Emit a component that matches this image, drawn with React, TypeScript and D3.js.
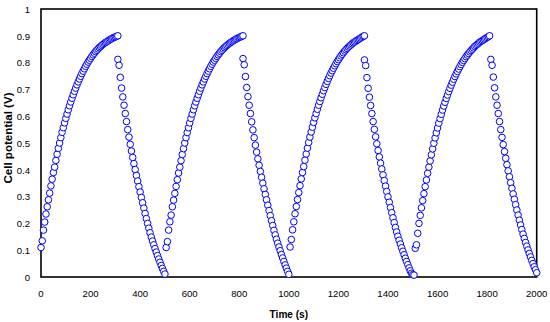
import React from 'react';
import * as d3 from 'd3';

// sample interval of the logger (s)
const step = 5;

// start time of each charge / discharge run (s)
const chargeStarts = [0, 505, 1005, 1510];
const dischargeStarts = [310, 815, 1305, 1815];

// cell potential (V), one array per run
const charge1 = [0.11, 0.135, 0.175, 0.205, 0.235, 0.262, 0.288, 0.313, 0.34, 0.365, 0.39, 0.41, 0.435, 0.458, 0.48, 0.5, 0.52, 0.54, 0.557, 0.575, 0.592, 0.608, 0.624, 0.639, 0.653, 0.667, 0.68, 0.693, 0.705, 0.717, 0.728, 0.739, 0.749, 0.759, 0.768, 0.777, 0.786, 0.794, 0.802, 0.809, 0.816, 0.823, 0.829, 0.835, 0.841, 0.846, 0.851, 0.856, 0.86, 0.864, 0.868, 0.872, 0.875, 0.878, 0.881, 0.884, 0.887, 0.889, 0.892, 0.894, 0.896, 0.898, 0.9];
const discharge1 = [0.812, 0.79, 0.745, 0.705, 0.672, 0.641, 0.61, 0.58, 0.55, 0.522, 0.495, 0.47, 0.446, 0.423, 0.401, 0.379, 0.358, 0.337, 0.317, 0.297, 0.277, 0.257, 0.237, 0.218, 0.2, 0.182, 0.165, 0.149, 0.134, 0.12, 0.106, 0.093, 0.08, 0.067, 0.055, 0.043, 0.032, 0.021, 0.011];
const charge2 = [0.11, 0.132, 0.175, 0.206, 0.231, 0.262, 0.287, 0.312, 0.338, 0.363, 0.388, 0.41, 0.434, 0.457, 0.479, 0.5, 0.52, 0.539, 0.557, 0.575, 0.592, 0.608, 0.624, 0.639, 0.653, 0.667, 0.68, 0.693, 0.705, 0.717, 0.728, 0.739, 0.749, 0.759, 0.768, 0.777, 0.786, 0.794, 0.802, 0.809, 0.816, 0.823, 0.829, 0.835, 0.841, 0.846, 0.851, 0.856, 0.86, 0.864, 0.868, 0.872, 0.875, 0.878, 0.881, 0.884, 0.887, 0.889, 0.892, 0.894, 0.896, 0.898, 0.9];
const discharge2 = [0.815, 0.792, 0.748, 0.707, 0.673, 0.641, 0.61, 0.579, 0.549, 0.52, 0.492, 0.466, 0.441, 0.417, 0.394, 0.372, 0.35, 0.329, 0.308, 0.288, 0.268, 0.248, 0.229, 0.21, 0.192, 0.174, 0.157, 0.141, 0.126, 0.112, 0.098, 0.084, 0.071, 0.058, 0.045, 0.033, 0.021, 0.01];
const charge3 = [0.112, 0.14, 0.176, 0.206, 0.236, 0.263, 0.289, 0.315, 0.341, 0.366, 0.39, 0.412, 0.436, 0.459, 0.481, 0.502, 0.522, 0.541, 0.559, 0.577, 0.594, 0.61, 0.626, 0.641, 0.655, 0.669, 0.682, 0.695, 0.707, 0.719, 0.73, 0.741, 0.751, 0.761, 0.77, 0.779, 0.788, 0.796, 0.804, 0.811, 0.818, 0.825, 0.831, 0.837, 0.843, 0.848, 0.853, 0.858, 0.862, 0.866, 0.87, 0.874, 0.877, 0.88, 0.883, 0.886, 0.889, 0.892, 0.895, 0.898, 0.9];
const discharge3 = [0.81, 0.789, 0.744, 0.704, 0.671, 0.64, 0.61, 0.58, 0.551, 0.523, 0.497, 0.472, 0.448, 0.425, 0.403, 0.381, 0.36, 0.339, 0.319, 0.299, 0.279, 0.259, 0.24, 0.221, 0.203, 0.185, 0.168, 0.152, 0.137, 0.123, 0.109, 0.096, 0.083, 0.07, 0.058, 0.046, 0.034, 0.023, 0.014, 0.009, 0.007];
const charge4 = [0.107, 0.12, 0.163, 0.2, 0.23, 0.258, 0.285, 0.311, 0.337, 0.362, 0.387, 0.41, 0.433, 0.456, 0.478, 0.499, 0.519, 0.538, 0.556, 0.574, 0.591, 0.607, 0.623, 0.638, 0.652, 0.666, 0.679, 0.692, 0.704, 0.716, 0.727, 0.738, 0.748, 0.758, 0.767, 0.776, 0.785, 0.793, 0.801, 0.808, 0.815, 0.822, 0.828, 0.834, 0.84, 0.845, 0.85, 0.855, 0.86, 0.864, 0.868, 0.872, 0.876, 0.879, 0.882, 0.885, 0.888, 0.891, 0.894, 0.897, 0.9];
const discharge4 = [0.812, 0.79, 0.746, 0.706, 0.672, 0.641, 0.61, 0.58, 0.55, 0.521, 0.494, 0.468, 0.443, 0.419, 0.396, 0.374, 0.352, 0.331, 0.31, 0.29, 0.27, 0.25, 0.231, 0.212, 0.194, 0.177, 0.16, 0.144, 0.129, 0.115, 0.101, 0.088, 0.075, 0.062, 0.05, 0.038, 0.027, 0.016];

const charges = [charge1, charge2, charge3, charge4];
const discharges = [discharge1, discharge2, discharge3, discharge4];

const xTicks = [0, 200, 400, 600, 800, 1000, 1200, 1400, 1600, 1800, 2000];
const yTicks = [0, 0.1, 0.2, 0.3, 0.4, 0.5, 0.6, 0.7, 0.8, 0.9, 1];

const width = 550;
const height = 322;
const margin = { top: 9, right: 13.3, bottom: 45, left: 41 };
const font = '"Liberation Sans", Arial, sans-serif';

export default function App() {
    const x = d3.scaleLinear([0, 2000], [margin.left, width - margin.right]);
    const y = d3.scaleLinear([0, 1], [height - margin.bottom, margin.top]);

    // points in time order, one run after the other
    const points: { t: number; v: number }[] = [];
    charges.forEach((c, k) => {
        c.forEach((v, i) => points.push({ t: chargeStarts[k] + i * step, v }));
        discharges[k].forEach((v, i) => points.push({ t: dischargeStarts[k] + i * step, v }));
    });

    const [x0, x1] = x.range();
    const [y0, y1] = y.range();

    return (
        <svg width={width} height={height} style={{ position: 'absolute', left: 0, top: 0, background: '#fff' }}>
            <rect x={x0} y={y1} width={x1 - x0} height={y0 - y1} fill="none" stroke="#000" strokeWidth="1.6" />
            <g fontFamily={font} fontSize="9.6" fill="#000">
                {yTicks.map((d) => (
                    <text key={d} x={30} y={y(d) + 3.8} textAnchor="end">{String(d)}</text>
                ))}
                {xTicks.map((d) => (
                    <text key={d} x={x(d)} y={296.5} textAnchor="middle">{d}</text>
                ))}
            </g>
            <g fill="#fff" stroke="#0000FF" strokeWidth="1">
                {points.map((p, i) => (
                    <circle key={i} cx={x(p.t)} cy={y(p.v)} r={3.3} />
                ))}
            </g>
            <text x={(x0 + x1) / 2} y={318} textAnchor="middle" fontFamily={font} fontWeight="bold" fontSize="11"
                textLength={38.5} lengthAdjust="spacingAndGlyphs">Time (s)</text>
            <text transform={`translate(11.5,${(y0 + y1) / 2 - 5}) rotate(-90)`} textAnchor="middle" fontFamily={font}
                fontWeight="bold" fontSize="11" textLength={91} lengthAdjust="spacingAndGlyphs">Cell potential (V)</text>
        </svg>
    );
}
